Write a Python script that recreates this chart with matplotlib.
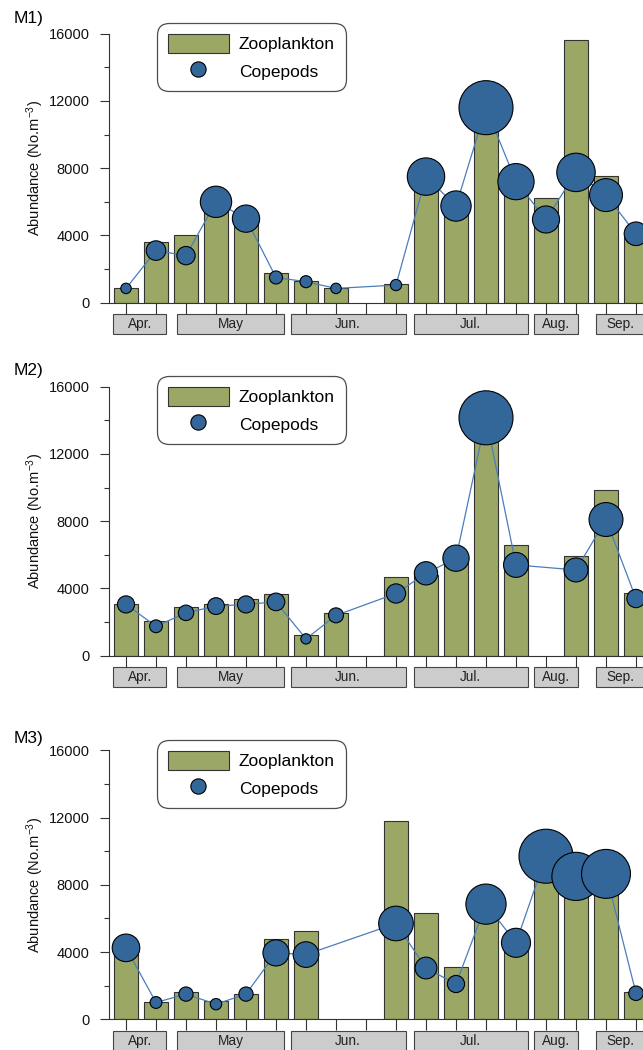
import numpy as np
import matplotlib
matplotlib.use("Agg")
import matplotlib.pyplot as plt
from matplotlib.patches import Rectangle, Patch
from matplotlib.lines import Line2D
import matplotlib.transforms as mtransforms

plt.rcParams['font.family'] = ['Liberation Sans', 'DejaVu Sans']
plt.rcParams['mathtext.default'] = 'regular'

nan = np.nan
stations = ["M1)", "M2)", "M3)"]

# sampling dates, one slot per bar (NaN = no sample)
zoo_m1 = [850, 3600, 4000, 5900, 4900, 1750, 1300, 900, nan, 1100,
          7100, 5500, 10800, 6500, 6200, 15600, 7550, 3900]
cop_m1 = [850, 3100, 2800, 6000, 5000, 1500, 1250, 850, nan, 1050,
          7500, 5750, 11600, 7200, 4950, 7750, 6400, 4100]

zoo_m2 = [3100, 2050, 2900, 3100, 3350, 3650, 1250, 2550, nan, 4700,
          4800, 5600, 13000, 6600, nan, 5950, 9850, 3700]
cop_m2 = [3050, 1750, 2550, 2950, 3050, 3200, 1000, 2400, nan, 3700,
          4900, 5800, 14150, 5400, nan, 5100, 8100, 3400]

zoo_m3 = [3900, 1050, 1650, 1100, 1500, 4750, 5250, nan, nan, 11800,
          6350, 3100, 5900, 4100, 8700, 8000, 8000, 1650]
cop_m3 = [4250, 1000, 1500, 900, 1500, 3950, 3850, nan, nan, 5700,
          3050, 2100, 6850, 4550, 9700, 8500, 8650, 1550]

zoo_all = [zoo_m1, zoo_m2, zoo_m3]
cop_all = [cop_m1, cop_m2, cop_m3]

months = ["Apr.", "May", "Jun.", "Jul.", "Aug.", "Sep."]
month_start = [-0.42, 1.69, 5.49, 9.60, 13.61, 15.67]
month_end = [1.33, 5.27, 9.32, 13.39, 15.08, 17.27]

yticks_major = [0, 4000, 8000, 12000, 16000]
yticks_minor = [2000, 6000, 10000, 14000]

bar_color = "#9BA865"
dot_color = "#336699"
line_color = "#4A7EBB"
dark = "#333333"

W, H = 643, 1050
fig = plt.figure(figsize=(W / 100, H / 100), dpi=100)

# pixel layout of each panel
ax_left = 109
ax_w = W - ax_left
ax_h = 269
zero_y = [302.7, 655.7, 1019.3]
label_y = [18, 371, 739]

x0_px, step_px = 126, 30
n = len(zoo_m1)
x = np.arange(n)

for k in range(3):
    zoo = np.array(zoo_all[k], dtype=float)
    cop = np.array(cop_all[k], dtype=float)
    ax = fig.add_axes([ax_left / W, (H - zero_y[k]) / H, ax_w / W, ax_h / H])
    ax.set_xlim((ax_left - x0_px) / step_px, (W - x0_px) / step_px)
    ax.set_ylim(0, 16000)

    ok = ~np.isnan(zoo)
    ax.bar(x[ok], zoo[ok], width=0.77, color=bar_color, edgecolor=dark,
           linewidth=0.8, zorder=2)

    ok = ~np.isnan(cop)
    ax.plot(x[ok], cop[ok], color=line_color, lw=0.9, zorder=3)
    d_px = 7 + 47 * cop[ok] / np.nanmax(cop)
    ax.scatter(x[ok], cop[ok], s=(d_px * 0.72) ** 2, color=dot_color,
               edgecolor="black", linewidth=0.8, zorder=4, clip_on=False)

    for s in ["top", "right"]:
        ax.spines[s].set_visible(False)
    for s in ["left", "bottom"]:
        ax.spines[s].set_color(dark)
        ax.spines[s].set_linewidth(0.8)

    ax.set_yticks(yticks_major)
    ax.set_yticks(yticks_minor, minor=True)
    ax.set_xticks(x)
    ax.set_xticklabels([])
    ax.tick_params(axis="y", which="major", length=6.5, width=0.8, color=dark,
                   labelsize=10.5, pad=7.5, labelcolor="#111111")
    ax.tick_params(axis="y", which="minor", length=3.6, width=0.8, color=dark)
    ax.tick_params(axis="x", length=7.9, width=0.8, color=dark)

    ax.text(-0.1386, 0.5, "Abundance (No.m$^{-3}$)", rotation=90,
            ha="center", va="center", fontsize=10.5, color="#111111",
            transform=ax.transAxes)

    # month boxes under the axis
    trans = mtransforms.blended_transform_factory(ax.transData, ax.transAxes)
    top = -11.3 / ax_h
    hgt = 20 / ax_h
    for name, a, b in zip(months, month_start, month_end):
        ax.add_patch(Rectangle((a, top - hgt), b - a, hgt, transform=trans,
                               facecolor="#CCCCCC", edgecolor="#444444",
                               linewidth=0.8, clip_on=False))
        ax.text((a + b) / 2, top - hgt / 2, name, transform=trans,
                ha="center", va="center", fontsize=9.8, color="#222222")

    handles = [Patch(facecolor=bar_color, edgecolor=dark, linewidth=0.8),
               Line2D([], [], marker="o", ls="none", ms=11,
                      markerfacecolor=dot_color, markeredgecolor="black",
                      markeredgewidth=0.8)]
    leg = ax.legend(handles, ["Zooplankton", "Copepods"], loc="upper left",
                    bbox_to_anchor=((157.3 - ax_left) / ax_w, 1 + 10.4 / ax_h),
                    borderaxespad=0, fontsize=12.5, handlelength=3.5,
                    handleheight=1.3, handletextpad=0.58, borderpad=0.62,
                    labelspacing=0.5, frameon=True, fancybox=True)
    frame = leg.get_frame()
    frame.set_edgecolor("#222222")
    frame.set_linewidth(0.9)
    frame.set_boxstyle("round", pad=0, rounding_size=0.7)

    fig.text(14 / W, 1 - label_y[k] / H, stations[k], fontsize=12.5,
             ha="left", va="center")

fig.savefig("out.png", dpi=100)
